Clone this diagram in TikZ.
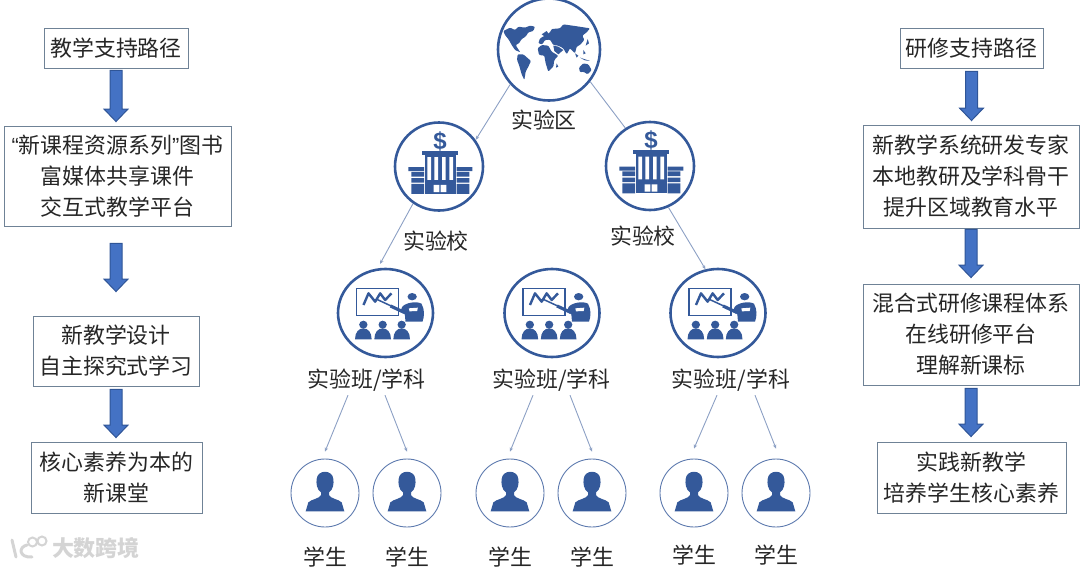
\documentclass[tikz,border=0pt]{standalone}
\usepackage{fontspec}
\setmainfont{Noto Sans CJK SC}
\newfontfamily\lat{Liberation Sans}
\usetikzlibrary{arrows.meta,shapes.geometric,calc}
\definecolor{icon}{HTML}{34599A}
\definecolor{boxline}{HTML}{6F8296}
\definecolor{thin}{HTML}{8CA0C4}
\definecolor{blockfill}{HTML}{4472C4}
\definecolor{blockedge}{HTML}{2F5597}
\definecolor{wm}{HTML}{D4D4D4}
\tikzset{
  box/.style={draw=boxline,line width=.9pt,inner sep=0pt,align=center,text=black!85,font=\fontsize{21.9}{31}\selectfont},
  lab/.style={inner sep=0pt,minimum height=30pt,text=black!85,font=\fontsize{21.9}{28}\selectfont},
  bigring/.style={circle,draw=icon,line width=2.6pt,inner sep=0pt},
  classring/.style={ellipse,draw=icon,line width=2.6pt,inner sep=0pt,minimum width=95pt,minimum height=88pt},
  stuttring/.style={circle,draw=icon!80,line width=.9pt,inner sep=0pt,minimum size=68pt},
  conn/.style={draw=thin,line width=.9pt,-{Stealth[length=4pt,width=3.5pt]}},
  plain conn/.style={draw=thin,line width=.9pt},
  blockarrow/.style={draw=blockedge,fill=blockfill,line width=1pt,line join=miter,
    to path={let \p1=(\tikztostart),\p2=(\tikztotarget) in
      (\x1-6pt,\y1) -- (\x1+6pt,\y1) -- (\x1+6pt,\y2+12.5pt) -- (\x1+12pt,\y2+12.5pt) -- (\x1,\y2) -- (\x1-12pt,\y2+12.5pt) -- (\x1-6pt,\y2+12.5pt) -- cycle}},
  building/.pic={
    \begin{scope}[x=.3333pt,y=-.3333pt]
      \fill[icon] (-50,-48) rectangle (58,-36);
      \fill[icon] (-41,-36) rectangle (50,82);
      \fill[white] (-35,-28) rectangle (-24,40) (-14,-28) rectangle (-3,40) (9,-28) rectangle (20,40) (31,-28) rectangle (42,40);
      \fill[white] (-16,55) rectangle (1,77) (5,55) rectangle (22,77);
      \fill[icon] (-92,2) rectangle (-45,14) (53,2) rectangle (100,14);
      \fill[icon] (-83,16) rectangle (-45,30) (53,16) rectangle (91,30);
      \fill[icon] (-83,35) rectangle (-45,48) (53,35) rectangle (91,48);
      \fill[icon] (-83,52) rectangle (-45,82) (53,52) rectangle (91,82);
      \node[text=icon,inner sep=0pt,font=\fontsize{24}{24}\selectfont\bfseries\lat] at (3,-76) {\$};
    \end{scope}
  },
  teacher/.pic={
    \begin{scope}[x=.3333pt,y=-.3333pt]
      \draw[icon,line width=1.5pt] (-86.5,-74) rectangle (38.5,8);
      \draw[icon,line width=2.4pt,line join=round] (-66,-24) -- (-51,-59) -- (-31,-34) -- (-16,-59) -- (-1,-39) -- (18,-59);
      \draw[icon,line width=1.5pt] (-26,-41) -- (30,-15);
      \draw[icon,line width=3.2pt] (15,-21) -- (56,-2);
      \fill[icon] (80,-49) ellipse (14 and 11);
      \fill[icon] (50,-18) .. controls (60,-32) and (95,-36) .. (108,-28) .. controls (118,-10) and (117,10) .. (111,26) -- (60,26) -- (58,4) -- (44,-4) -- cycle;
      \fill[white] (70,-14) -- (97,-16) -- (95,-6) -- (72,-5) -- cycle;
      \foreach \d in {-66.5,-8.5,48.5}{
        \fill[icon] (\d,35) ellipse (12.5 and 12);
        \fill[icon] (\d-25,79) .. controls (\d-25,58) and (\d-14,46) .. (\d,46) .. controls (\d+14,46) and (\d+25,58) .. (\d+25,79) -- cycle;
      }
    \end{scope}
  },
  student/.pic={
    \begin{scope}[x=.3333pt,y=-.3333pt]
      \fill[icon] (-58,55) -- (-50,28) .. controls (-40,18) and (-18,18) .. (-12,6) -- (-12,-2) .. controls (-25,-10) and (-27,-30) .. (-25,-42) .. controls (-23,-71) and (23,-71) .. (25,-42) .. controls (27,-30) and (25,-10) .. (12,-2) -- (12,6) .. controls (18,18) and (40,18) .. (50,28) -- (58,55) -- cycle;
    \end{scope}
  }
}
\begin{document}
\begin{tikzpicture}[x=1pt,y=-1pt]
\useasboundingbox (0,0) rectangle (1080,568);
% side boxes, left
\node[box,minimum width=144pt,minimum height=40pt] (L1) at (116,48) {教学支持路径};
\node[box,minimum width=227pt,minimum height=100pt] (L2) at (117.5,176) {{\lat “}新课程资源系列{\lat ”}图书\\富媒体共享课件\\交互式教学平台};
\node[box,minimum width=166pt,minimum height=70pt] (L3) at (116,351) {新教学设计\\自主探究式学习};
\node[box,minimum width=171pt,minimum height=71pt] (L4) at (116.5,477.5) {核心素养为本的\\新课堂};
\draw[blockarrow] ([yshift=-2pt]L1.south) to ([yshift=4pt]L2.north-|L1.south);
\draw[blockarrow] ([yshift=-17pt]L2.south-|L1.south) to ([yshift=24pt]L3.north-|L1.south);
\draw[blockarrow] ([yshift=-3pt]L3.south) to ([yshift=4pt]L4.north-|L3.south);
% side boxes, right
\node[box,minimum width=143pt,minimum height=40pt] (R1) at (971.5,48) {研修支持路径};
\node[box,minimum width=216pt,minimum height=103pt] (R2) at (971,176.5) {新教学系统研发专家\\本地教研及学科骨干\\提升区域教育水平};
\node[box,minimum width=216pt,minimum height=101pt] (R3) at (971,334.5) {混合式研修课程体系\\在线研修平台\\理解新课标};
\node[box,minimum width=189pt,minimum height=71pt] (R4) at (971.5,477.5) {实践新教学\\培养学生核心素养};
\draw[blockarrow] ([yshift=-3pt]R1.south) to ([yshift=4pt]R2.north-|R1.south);
\draw[blockarrow] ([yshift=-1pt]R2.south) to ([yshift=6pt]R3.north);
\draw[blockarrow] ([yshift=-3pt]R3.south) to ([yshift=5pt]R4.north-|R3.south);
% rings
\node[bigring,minimum size=102pt] (world) at (549,49.5) {};
\node[bigring,minimum size=88pt] (schoolL) at (439,166.5) {};
\node[bigring,minimum size=88pt] (schoolR) at (650,166) {};
\node[classring] (classA) at (385.5,313) {};
\node[classring] (classB) at (552,313) {};
\node[classring] (classC) at (718,313) {};
\foreach \n/\x in {sA/325,sB/407,sC/510,sD/592,sE/694,sF/776}{
  \node[stuttring] (\n) at (\x,493) {};
  \pic at (\x,493) {student};
}
% world map
\begin{scope}[shift={(495,15)},x=.3333pt,y=-.3333pt]
\fill[icon,rounded corners=1pt]
 (25,48) -- (45,38) -- (60,45) -- (70,35) -- (90,38) -- (105,32) -- (120,35) -- (115,48) -- (100,52) -- (92,65) -- (80,72) -- (72,85) -- (62,90) -- (68,100) -- (76,112) -- (60,105) -- (50,90) -- (42,75) -- (30,60) -- cycle;
\fill[icon,rounded corners=1pt]
 (68,118) -- (85,118) -- (108,138) -- (100,155) -- (92,170) -- (88,195) -- (80,178) -- (72,150) -- (66,135) -- cycle;
\fill[icon,rounded corners=1pt]
 (135,70) -- (150,62) -- (165,52) -- (170,42) -- (195,40) -- (205,28) -- (240,33) -- (285,40) -- (275,52) -- (262,62) -- (268,75) -- (255,90) -- (245,95) -- (240,115) -- (225,100) -- (215,118) -- (205,100) -- (190,92) -- (175,90) -- (165,74) -- (150,75) -- (142,88) -- (130,85) -- cycle;
\fill[icon,rounded corners=1pt]
 (128,100) -- (140,90) -- (160,92) -- (170,110) -- (190,122) -- (178,135) -- (175,155) -- (160,170) -- (152,145) -- (148,122) -- (132,120) -- cycle;
\fill[icon] (175,92) -- (190,95) -- (205,105) -- (190,118) -- (178,108) -- cycle;
\fill[icon] (140,58) -- (155,48) -- (160,55) -- (150,65) -- cycle;
\fill[icon] (240,115) -- (250,122) -- (245,128) -- cycle (255,128) -- (285,138) -- (270,136) -- cycle (265,105) -- (272,115) -- (265,118) -- cycle (278,72) -- (282,85) -- (272,92) -- cycle (185,145) -- (190,155) -- (183,158) -- cycle;
\fill[icon,rounded corners=1pt] (252,158) -- (265,145) -- (280,148) -- (290,165) -- (278,178) -- (265,170) -- (255,172) -- cycle;
\end{scope}
\pic at (439,166.5) {building};
\pic at (650,166) {building};
\pic at (385.5,313) {teacher};
\pic at (552,313) {teacher};
\pic at (718,313) {teacher};
% labels
\node[lab] (lw) at (544,120) {实验区};
\node[lab] (lsL) at (436,241) {实验校};
\node[lab] (lsR) at (643,236) {实验校};
\node[lab] (lcA) at (366.5,380) {实验班/学科};
\node[lab] (lcB) at (551.5,380) {实验班/学科};
\node[lab] (lcC) at (731,380) {实验班/学科};
\node[lab] (tA) at (325,557) {学生};
\node[lab] (tB) at (407,557) {学生};
\node[lab] (tC) at (510,557) {学生};
\node[lab] (tD) at (592,557) {学生};
\node[lab] (tE) at (694,555) {学生};
\node[lab] (tF) at (776,555) {学生};
% connectors
\draw[conn] (world.222) -- (schoolL.36);
\draw[plain conn] (world.-38) -- (schoolR.123);
\draw[conn,shorten >=5pt] (schoolL.235) -- (classA.100);
\draw[conn] (schoolR.-66) -- (classC.106);
\draw[conn] ([xshift=-18.5pt]lcA.south) -- ([yshift=7pt]sA.north);
\draw[conn] ([xshift=18.5pt]lcA.south) -- ([yshift=7pt]sB.north);
\draw[conn] ([xshift=-18.5pt]lcB.south) -- ([yshift=7pt]sC.north);
\draw[conn] ([xshift=18.5pt]lcB.south) -- ([yshift=7pt]sD.north);
\draw[conn] ([xshift=-14pt]lcC.south) -- ([yshift=10pt]sE.north);
\draw[conn] ([xshift=24pt]lcC.south) -- ([yshift=10pt]sF.north);
% watermark
\node[inner sep=0pt,text=wm,font=\fontsize{22}{22}\selectfont\bfseries] (mark) at (96,548) {大数跨境};
\draw[wm,line width=3pt,line cap=round] (12,540) -- (16,557) (27,545) .. controls (18,547) and (19,558) .. (32,557);
\draw[wm,line width=2pt] (32.5,542) circle (4.5) (42,541) circle (4.5);
\end{tikzpicture}
\end{document}
